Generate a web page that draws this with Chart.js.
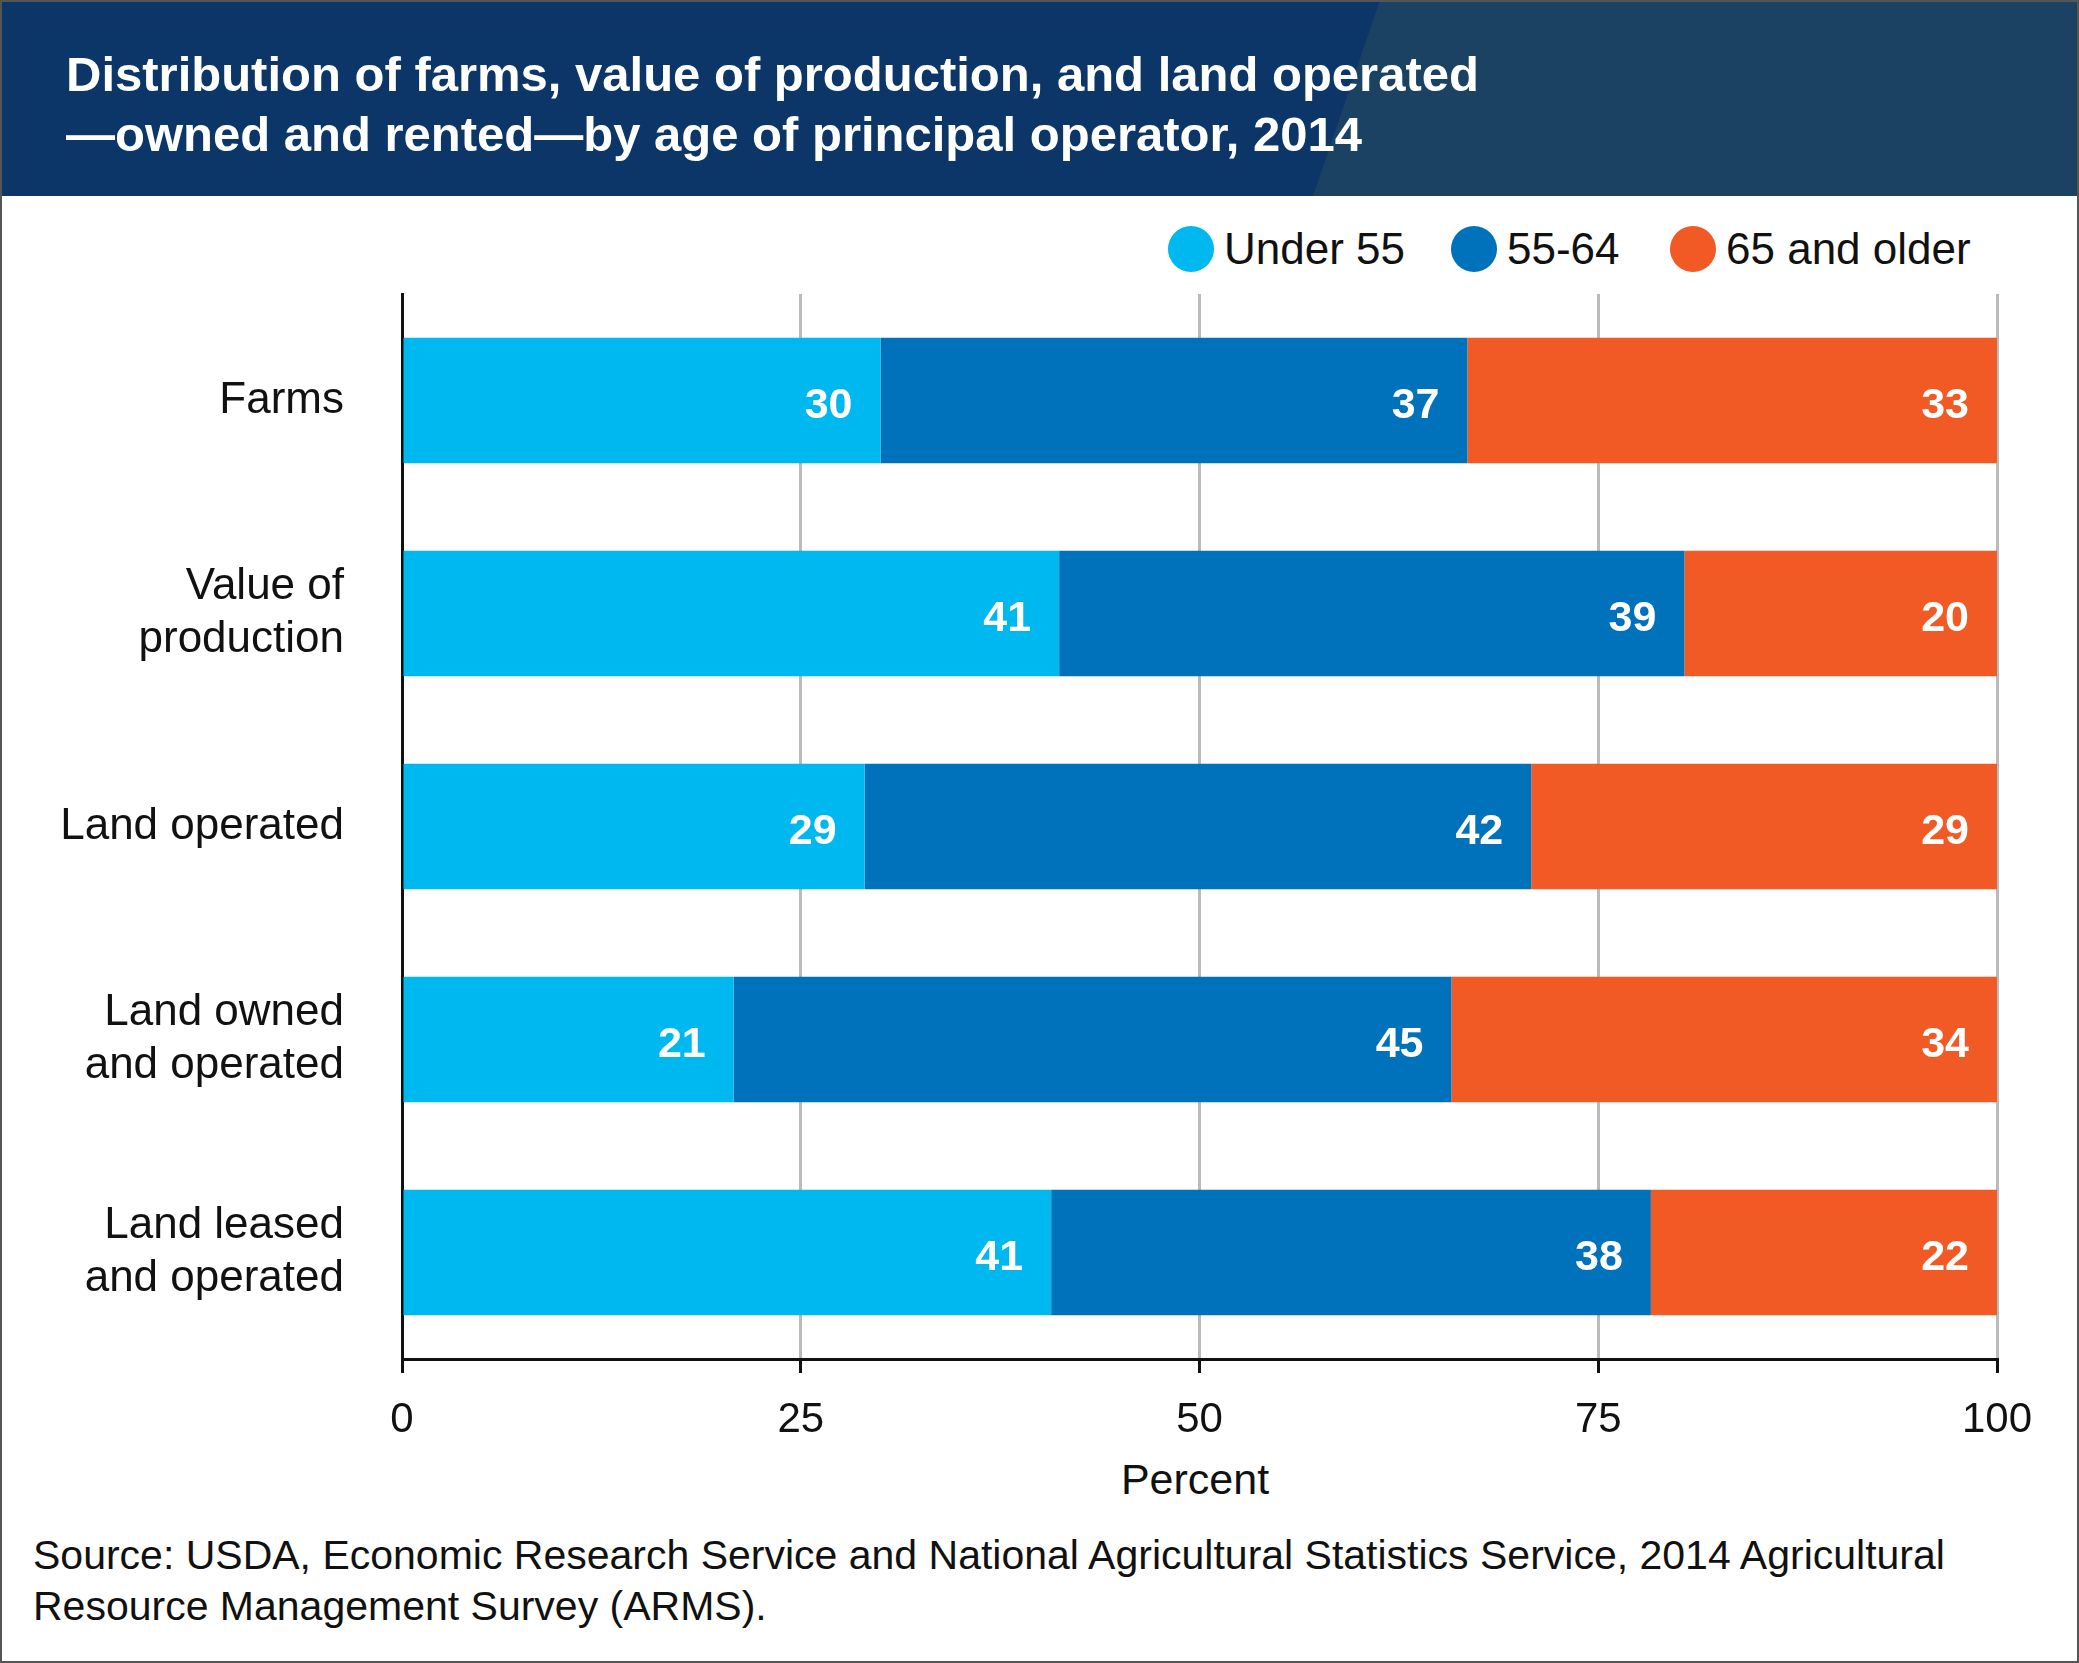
<!DOCTYPE html>
<html><head><meta charset="utf-8">
<script src="https://cdn.jsdelivr.net/npm/chart.js@4/dist/chart.umd.min.js"></script>
<style>
body{margin:0;width:2079px;height:1663px;position:relative;background:#fff;font-family:"Liberation Sans",Arial,sans-serif;overflow:hidden}
#frame{position:absolute;left:0;top:0;width:2075px;height:1659px;border:2px solid #555;pointer-events:none;z-index:5}
#hdr{position:absolute;left:0;top:0;width:2079px;height:196px;background:#0b3667;overflow:hidden}
#hdr .r{position:absolute;top:0;left:0;width:2079px;height:196px;background:#1b4263;clip-path:polygon(1380px 0,2079px 0,2079px 196px,1313px 196px)}
#hdr h1{position:absolute;left:66px;top:44px;margin:0;color:#fff;font-size:49px;line-height:60px;font-weight:bold}
.lg{position:absolute;top:224px;font-size:44px;color:#111;display:flex;align-items:center}
.lg i{display:inline-block;width:46px;height:46px;border-radius:50%;margin-right:10px}
#pct{position:absolute;left:0;width:2390px;text-align:center;top:1455px;font-size:43px;color:#111}
#src{position:absolute;left:33px;top:1530px;font-size:41px;line-height:51px;color:#111}
canvas{position:absolute;left:0;top:0}
</style></head><body>
<div id="hdr"><div class="r"></div><h1>Distribution of farms, value of production, and land operated<br>—owned and rented—by age of principal operator, 2014</h1></div>
<div class="lg" style="left:1168px"><i style="background:#00B8F0"></i>Under 55</div>
<div class="lg" style="left:1451px"><i style="background:#0072BC"></i>55-64</div>
<div class="lg" style="left:1670px"><i style="background:#F15A24"></i>65 and older</div>
<div id="pct">Percent</div>
<div id="src">Source: USDA, Economic Research Service and National Agricultural Statistics Service, 2014 Agricultural<br>Resource Management Survey (ARMS).</div>
<div id="frame"></div>
<canvas id="c" width="2079" height="1663"></canvas>
<script>
const categories=[["Farms"],["Value of","production"],["Land operated"],["Land owned","and operated"],["Land leased","and operated"]];
const under55=[30,41.2,29,20.8,40.7];
const age55to64=[36.8,39.2,41.8,45,37.6];
const over65=[33.2,19.6,29.2,34.2,21.7];
const labels55=[30,41,29,21,41],labels5564=[37,39,42,45,38],labels65=[33,20,29,34,22];
const xTicks=[0,25,50,75,100];
const valLabels=[labels55,labels5564,labels65];
const lblPlugin={id:'lbl',afterDatasetsDraw(ch){const c=ch.ctx;c.save();c.fillStyle='#fff';c.font='bold 43px "Liberation Sans",Arial';c.textAlign='right';c.textBaseline='middle';
ch.data.datasets.forEach((d,i)=>{ch.getDatasetMeta(i).data.forEach((b,j)=>{c.fillText(valLabels[i][j],b.x-28,b.y+6);});});c.restore();}};
new Chart(document.getElementById('c'),{type:'bar',
data:{labels:categories,datasets:[
{data:under55,backgroundColor:'#00B8F0'},{data:age55to64,backgroundColor:'#0072BC'},{data:over65,backgroundColor:'#F15A24'}]},
options:{indexAxis:'y',responsive:false,animation:false,devicePixelRatio:1,
layout:{padding:{top:294,right:82,left:0,bottom:0}},
datasets:{bar:{categoryPercentage:1,barPercentage:0.59}},
plugins:{legend:{display:false},tooltip:{enabled:false}},
scales:{
x:{stacked:true,min:0,max:100,afterBuildTicks(a){a.ticks=xTicks.map(v=>({value:v}));},
afterFit(a){a.height=304;},
grid:{color:'#bbb',lineWidth:3,drawTicks:true,tickLength:14,tickColor:'#111'},
border:{color:'#111',width:3},
ticks:{color:'#111',font:{size:42,family:'"Liberation Sans",Arial'},padding:22,maxRotation:0}},
y:{stacked:true,afterFit(a){a.width=402;},grid:{display:false},border:{color:'#111',width:3},
ticks:{color:'#111',font:{size:44,family:'"Liberation Sans",Arial'},padding:50,crossAlign:'near'}}}},
plugins:[lblPlugin]});
</script></body></html>
